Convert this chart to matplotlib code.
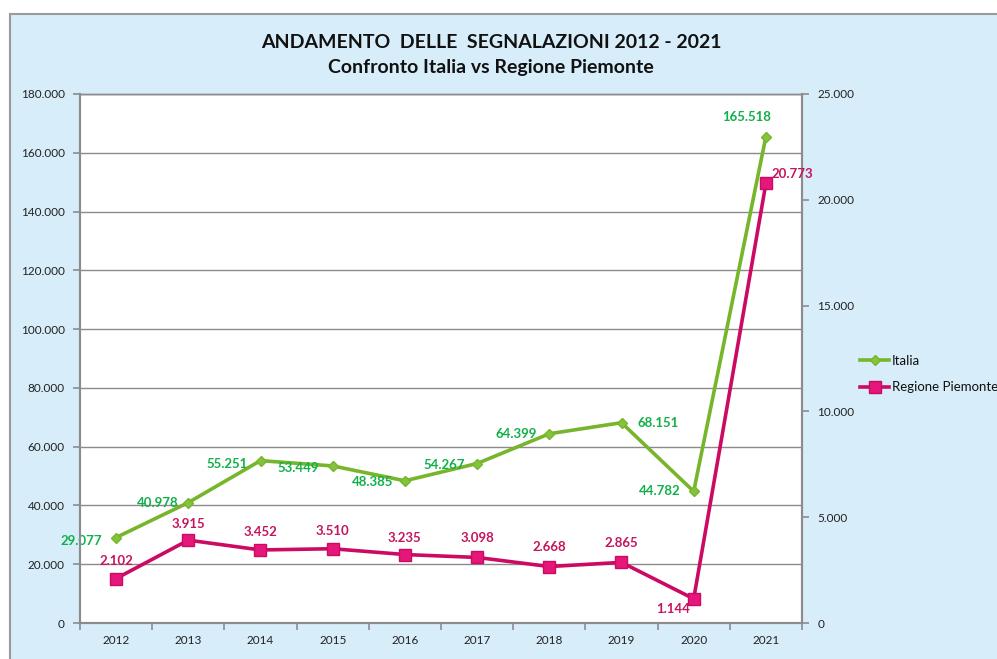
import matplotlib
matplotlib.use("Agg")
import matplotlib.pyplot as plt
from matplotlib.patches import Rectangle
from matplotlib.ticker import FuncFormatter, FixedLocator

years = ["2012", "2013", "2014", "2015", "2016", "2017", "2018", "2019", "2020", "2021"]
italia = [29077, 40978, 55251, 53449, 48385, 54267, 64399, 68151, 44782, 165518]
piemonte = [2102, 3915, 3452, 3510, 3235, 3098, 2668, 2865, 1144, 20773]

# label offsets in pixels (dx, dy)
ita_off = [(-35, -3), (-31, 0), (-33, -3), (-34, -2), (-32, -1), (-33, -1), (-33, 0), (37, 0), (-34, 0), (-19, 20)]
pie_off = [(0, 18), (0, 16), (0, 18), (0, 18), (0, 17), (0, 19), (0, 20), (0, 19), (-21, -10), (26, 9)]

plt.rcParams['font.family'] = ['Lato', 'DejaVu Sans']

def it_fmt(v, pos=None):
    return f"{v:,.0f}".replace(",", ".")

W, H = 997, 659
fig = plt.figure(figsize=(W / 100, H / 100), dpi=100)
fig.patch.set_facecolor("white")
bg = Rectangle((10 / W, -0.1), 1.2, (H - 14) / H + 0.1, transform=fig.transFigure,
               facecolor="#D7EDF9", edgecolor="#9A9A9A", linewidth=1.5, zorder=-10)
fig.patches.append(bg)

ax = fig.add_axes([80 / W, (H - 623) / H, 722 / W, 529 / H])
ax.set_facecolor("white")
ax2 = ax.twinx()

x = list(range(len(years)))
green_line = "#77B52B"
green_txt = "#12B04A"
pink_line = "#CC0A63"
pink_mark = "#E5177A"
pink_txt = "#C4155E"

ax.plot(x, italia, color=green_line, lw=2.6, marker="D", ms=5.5, mfc="#84C43C",
        mec=green_line, zorder=3, label="Italia")
ax2.plot(x, piemonte, color=pink_line, lw=2.6, marker="s", ms=8, mfc=pink_mark,
         mec=pink_line, zorder=3, label="Regione Piemonte")

ax.set_xlim(-0.5, len(years) - 0.5)
ax.set_ylim(0, 180000)
ax2.set_ylim(0, 25000)
ax.set_yticks(range(0, 180001, 20000))
ax2.set_yticks(range(0, 25001, 5000))
ax.yaxis.set_major_formatter(FuncFormatter(it_fmt))
ax2.yaxis.set_major_formatter(FuncFormatter(it_fmt))

ax.xaxis.set_major_locator(FixedLocator([i - 0.5 for i in range(len(years) + 1)]))
ax.xaxis.set_minor_locator(FixedLocator(x))
ax.set_xticklabels([""] * (len(years) + 1))
ax.set_xticklabels(years, minor=True)
ax.tick_params(axis="x", which="major", length=5, color="#8C8C8C", width=1.2)
ax.tick_params(axis="x", which="minor", length=0, pad=9, labelsize=8.5, colors="#222222")
ax.tick_params(axis="y", length=5, color="#8C8C8C", width=1.2, pad=6, labelsize=8.5,
               labelcolor="#222222")
ax2.tick_params(axis="y", length=5, color="#8C8C8C", width=1.2, pad=6, labelsize=8.5,
                labelcolor="#222222")

ax.grid(axis="y", color="#8A8A8A", lw=1.0)
ax.set_axisbelow(True)
for a in (ax, ax2):
    for s in a.spines.values():
        s.set_color("#8C8C8C")
        s.set_linewidth(1.5)
    a.spines["top"].set_linewidth(1.0)

for i, v in enumerate(italia):
    ax.annotate(it_fmt(v), (x[i], v), xytext=ita_off[i], textcoords="offset pixels",
                ha="center", va="center", color=green_txt, fontsize=9.5, fontweight="bold", zorder=5)
for i, v in enumerate(piemonte):
    ax2.annotate(it_fmt(v), (x[i], v), xytext=pie_off[i], textcoords="offset pixels",
                 ha="center", va="center", color=pink_txt, fontsize=9.5, fontweight="bold", zorder=5)

fig.text(491 / W, 1 - 43 / H, "ANDAMENTO  DELLE  SEGNALAZIONI 2012 - 2021", ha="center",
         va="center", fontsize=14, fontweight="bold", color="#111111")
fig.text(491 / W, 1 - 68 / H, "Confronto Italia vs Regione Piemonte", ha="center",
         va="center", fontsize=14, fontweight="bold", color="#111111")

h1, l1 = ax.get_legend_handles_labels()
h2, l2 = ax2.get_legend_handles_labels()
leg = fig.legend(h1 + h2, l1 + l2, loc="center left", bbox_to_anchor=(860 / W, 1 - 374 / H),
                 frameon=False, fontsize=9.5, handlelength=2.2, labelspacing=1.1,
                 handletextpad=0.2, borderaxespad=0, borderpad=0)
for t in leg.get_texts():
    t.set_color("#111111")

fig.savefig("out.png", dpi=100)
